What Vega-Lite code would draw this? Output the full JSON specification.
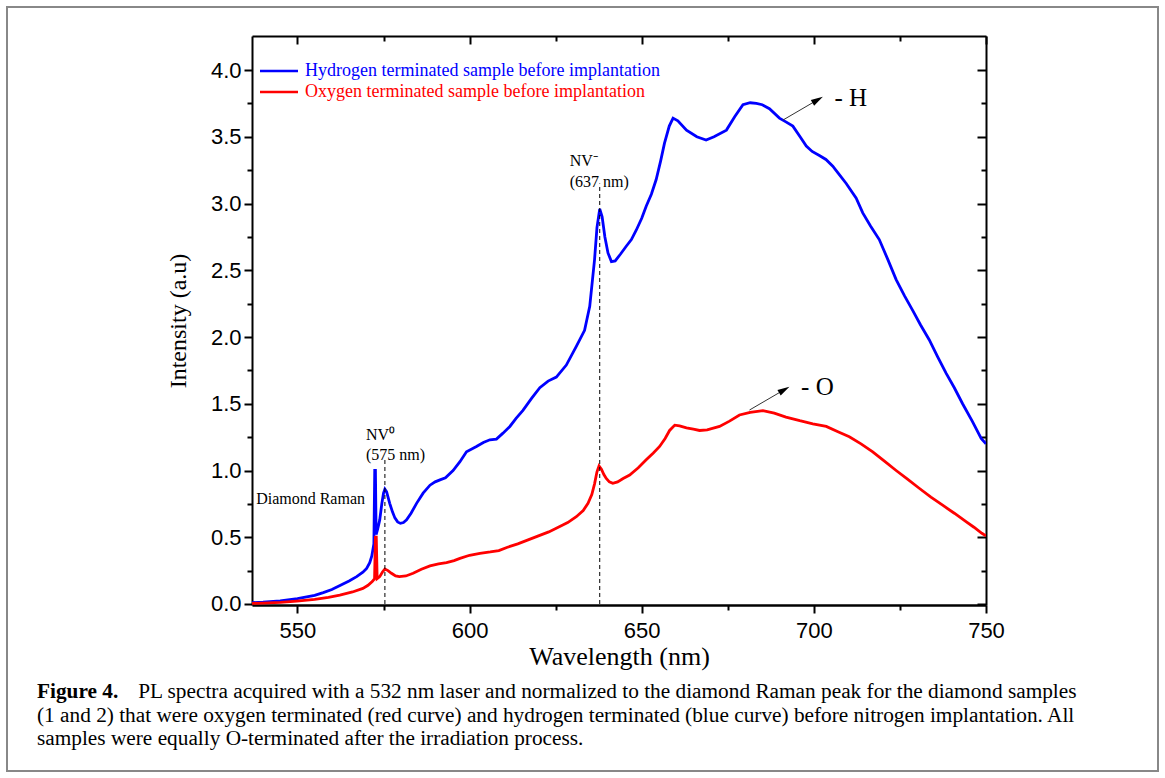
{
  "$schema": "https://vega.github.io/schema/vega-lite/v6.json",
  "width": 734,
  "height": 569,
  "autosize": {"type": "none"},
  "padding": {"left": 252, "top": 36, "right": 179, "bottom": 173},
  "background": "white",
  "config": {"view": {"stroke": null}, "font": "Liberation Serif"},
  "title": {
    "text": "Figure 4.",
    "subtitle": [
      "\u200b\u00a0\u00a0\u00a0\u00a0\u00a0\u00a0\u00a0\u00a0\u00a0\u00a0\u00a0\u00a0\u00a0\u00a0\u00a0\u00a0\u00a0\u00a0\u00a0PL spectra acquired with a 532 nm laser and normalized to the diamond Raman peak for the diamond samples",
      "(1 and 2) that were oxygen terminated (red curve) and hydrogen terminated (blue curve) before nitrogen implantation. All",
      "samples were equally O-terminated after the irradiation process."
    ],
    "orient": "bottom",
    "anchor": "start",
    "frame": "group",
    "dx": -215,
    "offset": -91,
    "font": "Liberation Serif",
    "fontSize": 21.3,
    "fontWeight": "bold",
    "color": "black",
    "subtitleFont": "Liberation Serif",
    "subtitleFontSize": 21.3,
    "subtitleFontWeight": "normal",
    "subtitleColor": "black",
    "subtitleLineHeight": 23.5,
    "subtitlePadding": -21
  },
  "datasets": {
    "spectra": [
      {"s":"H","wl":536.8,"I":0.010},{"s":"H","wl":540,"I":0.014},{"s":"H","wl":545,"I":0.024},{"s":"H","wl":550,"I":0.040},
      {"s":"H","wl":555,"I":0.064},{"s":"H","wl":557.5,"I":0.085},{"s":"H","wl":560,"I":0.108},{"s":"H","wl":562.5,"I":0.140},
      {"s":"H","wl":565,"I":0.172},{"s":"H","wl":567.2,"I":0.205},{"s":"H","wl":569,"I":0.238},{"s":"H","wl":570.1,"I":0.267},
      {"s":"H","wl":571,"I":0.31},{"s":"H","wl":571.6,"I":0.36},{"s":"H","wl":572.2,"I":0.45},{"s":"H","wl":572.45,"I":1.00},
      {"s":"H","wl":572.65,"I":1.00},{"s":"H","wl":572.85,"I":0.52},{"s":"H","wl":573.3,"I":0.56},{"s":"H","wl":573.9,"I":0.63},
      {"s":"H","wl":574.5,"I":0.75},{"s":"H","wl":575.0,"I":0.83},{"s":"H","wl":575.4,"I":0.86},{"s":"H","wl":575.9,"I":0.84},
      {"s":"H","wl":576.8,"I":0.754},{"s":"H","wl":577.6,"I":0.69},{"s":"H","wl":578.3,"I":0.645},{"s":"H","wl":579.1,"I":0.615},
      {"s":"H","wl":579.9,"I":0.604},{"s":"H","wl":580.8,"I":0.61},{"s":"H","wl":581.7,"I":0.63},{"s":"H","wl":583,"I":0.68},
      {"s":"H","wl":584.6,"I":0.754},{"s":"H","wl":586.5,"I":0.83},{"s":"H","wl":588.5,"I":0.89},{"s":"H","wl":590,"I":0.915},
      {"s":"H","wl":591.4,"I":0.93},{"s":"H","wl":593,"I":0.945},{"s":"H","wl":595.2,"I":1.00},{"s":"H","wl":597.2,"I":1.066},
      {"s":"H","wl":599.1,"I":1.14},{"s":"H","wl":602,"I":1.18},{"s":"H","wl":604,"I":1.21},{"s":"H","wl":605.9,"I":1.23},
      {"s":"H","wl":607.8,"I":1.235},{"s":"H","wl":609.7,"I":1.28},{"s":"H","wl":611.7,"I":1.33},{"s":"H","wl":613.5,"I":1.39},
      {"s":"H","wl":615.5,"I":1.45},{"s":"H","wl":618,"I":1.54},{"s":"H","wl":620.4,"I":1.62},{"s":"H","wl":622.8,"I":1.67},
      {"s":"H","wl":625.2,"I":1.70},{"s":"H","wl":628.1,"I":1.79},{"s":"H","wl":631,"I":1.93},{"s":"H","wl":633.4,"I":2.05},
      {"s":"H","wl":634.9,"I":2.23},{"s":"H","wl":635.7,"I":2.43},{"s":"H","wl":636.3,"I":2.58},{"s":"H","wl":637,"I":2.82},
      {"s":"H","wl":637.8,"I":2.96},{"s":"H","wl":638.5,"I":2.90},{"s":"H","wl":639.3,"I":2.75},{"s":"H","wl":640.2,"I":2.63},
      {"s":"H","wl":641.2,"I":2.565},{"s":"H","wl":642.3,"I":2.57},{"s":"H","wl":643.8,"I":2.62},{"s":"H","wl":645.5,"I":2.68},
      {"s":"H","wl":647,"I":2.73},{"s":"H","wl":648.4,"I":2.80},{"s":"H","wl":650,"I":2.89},{"s":"H","wl":651.3,"I":2.98},
      {"s":"H","wl":652.8,"I":3.07},{"s":"H","wl":654.2,"I":3.18},{"s":"H","wl":655.5,"I":3.32},{"s":"H","wl":656.6,"I":3.45},
      {"s":"H","wl":658,"I":3.58},{"s":"H","wl":659.1,"I":3.64},{"s":"H","wl":660.5,"I":3.62},{"s":"H","wl":663,"I":3.55},
      {"s":"H","wl":666,"I":3.50},{"s":"H","wl":668.7,"I":3.476},{"s":"H","wl":671,"I":3.50},{"s":"H","wl":674.6,"I":3.55},
      {"s":"H","wl":677,"I":3.65},{"s":"H","wl":679.4,"I":3.74},{"s":"H","wl":681.5,"I":3.755},{"s":"H","wl":683.3,"I":3.75},
      {"s":"H","wl":685,"I":3.74},{"s":"H","wl":687.1,"I":3.71},{"s":"H","wl":690,"I":3.64},{"s":"H","wl":692,"I":3.61},
      {"s":"H","wl":693.9,"I":3.58},{"s":"H","wl":696,"I":3.50},{"s":"H","wl":697.8,"I":3.43},{"s":"H","wl":699.5,"I":3.39},
      {"s":"H","wl":701.6,"I":3.36},{"s":"H","wl":703.5,"I":3.33},{"s":"H","wl":705.5,"I":3.28},{"s":"H","wl":707,"I":3.23},
      {"s":"H","wl":709.4,"I":3.15},{"s":"H","wl":712.3,"I":3.04},{"s":"H","wl":714.2,"I":2.93},{"s":"H","wl":716.5,"I":2.83},
      {"s":"H","wl":719,"I":2.73},{"s":"H","wl":721.5,"I":2.58},{"s":"H","wl":723.9,"I":2.43},{"s":"H","wl":726.3,"I":2.31},
      {"s":"H","wl":728.7,"I":2.20},{"s":"H","wl":731,"I":2.09},{"s":"H","wl":733.5,"I":1.98},{"s":"H","wl":736,"I":1.85},
      {"s":"H","wl":738.4,"I":1.73},{"s":"H","wl":740.8,"I":1.62},{"s":"H","wl":743.2,"I":1.50},{"s":"H","wl":746,"I":1.37},
      {"s":"H","wl":748.6,"I":1.24},{"s":"H","wl":750,"I":1.20},
      {"s":"O","wl":536.8,"I":0.005},{"s":"O","wl":540,"I":0.007},{"s":"O","wl":545,"I":0.012},{"s":"O","wl":549.8,"I":0.022},
      {"s":"O","wl":555,"I":0.035},{"s":"O","wl":559,"I":0.050},{"s":"O","wl":562.3,"I":0.067},{"s":"O","wl":566,"I":0.090},
      {"s":"O","wl":569,"I":0.117},{"s":"O","wl":570.5,"I":0.14},{"s":"O","wl":571.8,"I":0.17},{"s":"O","wl":572.4,"I":0.19},
      {"s":"O","wl":572.65,"I":0.50},{"s":"O","wl":572.9,"I":0.50},{"s":"O","wl":573.15,"I":0.19},{"s":"O","wl":573.9,"I":0.205},
      {"s":"O","wl":574.7,"I":0.24},{"s":"O","wl":575.4,"I":0.262},{"s":"O","wl":576.3,"I":0.25},{"s":"O","wl":577.3,"I":0.23},
      {"s":"O","wl":578.5,"I":0.21},{"s":"O","wl":579.6,"I":0.205},{"s":"O","wl":581.5,"I":0.21},{"s":"O","wl":583.6,"I":0.23},
      {"s":"O","wl":586,"I":0.26},{"s":"O","wl":588.5,"I":0.285},{"s":"O","wl":591,"I":0.30},{"s":"O","wl":593.3,"I":0.31},
      {"s":"O","wl":595.5,"I":0.325},{"s":"O","wl":597.2,"I":0.342},{"s":"O","wl":600,"I":0.365},{"s":"O","wl":603,"I":0.38},
      {"s":"O","wl":606,"I":0.39},{"s":"O","wl":608.5,"I":0.40},{"s":"O","wl":611,"I":0.425},{"s":"O","wl":614,"I":0.45},
      {"s":"O","wl":617,"I":0.48},{"s":"O","wl":620,"I":0.51},{"s":"O","wl":623,"I":0.54},{"s":"O","wl":626.2,"I":0.58},
      {"s":"O","wl":628.5,"I":0.61},{"s":"O","wl":631,"I":0.654},{"s":"O","wl":633,"I":0.70},{"s":"O","wl":634.4,"I":0.754},
      {"s":"O","wl":635.5,"I":0.82},{"s":"O","wl":636.3,"I":0.90},{"s":"O","wl":637,"I":0.99},{"s":"O","wl":637.6,"I":1.034},
      {"s":"O","wl":638.3,"I":1.01},{"s":"O","wl":639,"I":0.97},{"s":"O","wl":639.7,"I":0.94},{"s":"O","wl":640.6,"I":0.915},
      {"s":"O","wl":641.6,"I":0.904},{"s":"O","wl":643,"I":0.915},{"s":"O","wl":644.6,"I":0.94},{"s":"O","wl":646.5,"I":0.966},
      {"s":"O","wl":649,"I":1.02},{"s":"O","wl":651.3,"I":1.08},{"s":"O","wl":653.3,"I":1.13},{"s":"O","wl":655.2,"I":1.18},
      {"s":"O","wl":656.8,"I":1.24},{"s":"O","wl":658.1,"I":1.30},{"s":"O","wl":659.6,"I":1.34},{"s":"O","wl":661,"I":1.335},
      {"s":"O","wl":663,"I":1.32},{"s":"O","wl":665,"I":1.31},{"s":"O","wl":666.8,"I":1.30},{"s":"O","wl":669,"I":1.305},
      {"s":"O","wl":672.6,"I":1.33},{"s":"O","wl":675.5,"I":1.37},{"s":"O","wl":678.4,"I":1.416},{"s":"O","wl":681.5,"I":1.435},
      {"s":"O","wl":685.2,"I":1.448},{"s":"O","wl":688.5,"I":1.43},{"s":"O","wl":691.9,"I":1.40},{"s":"O","wl":695.9,"I":1.373},
      {"s":"O","wl":699.7,"I":1.35},{"s":"O","wl":703.6,"I":1.33},{"s":"O","wl":707,"I":1.29},{"s":"O","wl":710.3,"I":1.253},
      {"s":"O","wl":713.7,"I":1.20},{"s":"O","wl":717.1,"I":1.14},{"s":"O","wl":720.5,"I":1.07},{"s":"O","wl":723.9,"I":1.00},
      {"s":"O","wl":727.2,"I":0.935},{"s":"O","wl":730.6,"I":0.867},{"s":"O","wl":734,"I":0.80},{"s":"O","wl":737.4,"I":0.74},
      {"s":"O","wl":740.8,"I":0.68},{"s":"O","wl":744.2,"I":0.617},{"s":"O","wl":746.5,"I":0.575},{"s":"O","wl":748.8,"I":0.53},
      {"s":"O","wl":750,"I":0.51}
    ],
    "peaks": [
      {"wl": 575.4, "lo": 0, "hi": 1.08},
      {"wl": 637.8, "lo": 0, "hi": 3.15}
    ],
    "labels": [
      {"x": 569.9, "y": 1.228, "t": "NV⁰"},
      {"x": 569.9, "y": 1.075, "t": "(575 nm)"},
      {"x": 629.1, "y": 3.28, "t": "NV⁻"},
      {"x": 629.1, "y": 3.126, "t": "(637 nm)"},
      {"x": 538.0, "y": 0.749, "t": "Diamond Raman"}
    ],
    "tags": [
      {"x": 706.0, "y": 3.73, "t": "- H"},
      {"x": 696.3, "y": 1.566, "t": "- O"}
    ],
    "arrows": [
      {"x1": 691.0, "y1": 3.625, "hx": 701.1, "hy": 3.777},
      {"x1": 681.3, "y1": 1.453, "hx": 691.4, "hy": 1.605}
    ]
  },
  "resolve": {"axis": {"x": "independent", "y": "independent"}},
  "layer": [
    {
      "data": {"name": "spectra"},
      "mark": {"type": "line", "strokeWidth": 2.8, "clip": true},
      "encoding": {
        "x": {
          "field": "wl", "type": "quantitative",
          "scale": {"domain": [536.8, 750], "nice": false, "zero": false},
          "axis": {
            "orient": "bottom",
            "values": [550, 575, 600, 625, 650, 675, 700, 725, 750],
            "labelExpr": "datum.value % 50 == 0 ? datum.label : ''",
            "tickSize": {"condition": {"test": "datum.value % 50 == 0", "value": 8}, "value": 5},
            "tickWidth": 2, "tickColor": "black",
            "domainColor": "black", "domainWidth": 2.5,
            "labelFont": "Liberation Sans", "labelFontSize": 22, "labelColor": "black", "labelPadding": 7,
            "labelFlush": false, "labelOverlap": false,
            "title": "Wavelength (nm)", "titleFont": "Liberation Serif", "titleFontSize": 26,
            "titleFontWeight": "normal", "titleColor": "black", "titlePadding": 2,
            "grid": false
          }
        },
        "y": {
          "field": "I", "type": "quantitative",
          "scale": {"domain": [-0.0075, 4.255], "nice": false, "zero": false},
          "axis": {
            "orient": "left",
            "values": [0, 0.25, 0.5, 0.75, 1, 1.25, 1.5, 1.75, 2, 2.25, 2.5, 2.75, 3, 3.25, 3.5, 3.75, 4],
            "labelExpr": "datum.value % 0.5 == 0 ? format(datum.value, '.1f') : ''",
            "tickSize": {"condition": {"test": "datum.value % 0.5 == 0", "value": 8}, "value": 5},
            "tickWidth": 2, "tickColor": "black",
            "domainColor": "black", "domainWidth": 2,
            "labelFont": "Liberation Sans", "labelFontSize": 22, "labelColor": "black", "labelPadding": 3,
            "labelFlush": false, "labelOverlap": false,
            "title": "Intensity (a.u)", "titleFont": "Liberation Serif", "titleFontSize": 24,
            "titleFontWeight": "normal", "titleColor": "black", "titlePadding": 20,
            "grid": false
          }
        },
        "color": {
          "field": "s", "type": "nominal",
          "scale": {"domain": ["H", "O"], "range": ["#0000ff", "#ff0000"]},
          "legend": {
            "orient": "none", "legendX": 18, "legendY": 26, "title": null,
            "symbolType": "M-3.8,0L3.8,0", "symbolSize": 100, "symbolStrokeWidth": 2.5,
            "labelFont": "Liberation Serif", "labelFontSize": 18, "labelOffset": 17, "labelLimit": 1000,
            "rowPadding": 3, "padding": 0,
            "labelExpr": "datum.label == 'H' ? 'Hydrogen terminated sample before implantation' : 'Oxygen terminated sample before implantation'",
            "encode": {"labels": {"update": {"fill": {"scale": "color", "field": "value"}}}}
          }
        }
      }
    },
    {
      "data": {"name": "peaks"},
      "mark": {"type": "rule", "color": "black", "strokeWidth": 1, "strokeDash": [4, 3]},
      "encoding": {
        "x": {
          "field": "wl", "type": "quantitative",
          "axis": {
            "orient": "top",
            "values": [550, 575, 600, 625, 650, 675, 700, 725, 750],
            "labels": false, "title": null, "grid": false,
            "tickSize": {"condition": {"test": "datum.value % 50 == 0", "value": -8}, "value": -5},
            "tickWidth": 2, "tickColor": "black",
            "domainColor": "black", "domainWidth": 2
          }
        },
        "y": {
          "field": "lo", "type": "quantitative",
          "axis": {
            "orient": "right",
            "values": [0, 0.25, 0.5, 0.75, 1, 1.25, 1.5, 1.75, 2, 2.25, 2.5, 2.75, 3, 3.25, 3.5, 3.75, 4],
            "labels": false, "title": null, "grid": false,
            "tickSize": {"condition": {"test": "datum.value % 0.5 == 0", "value": -9}, "value": -5},
            "tickWidth": 2, "tickColor": "black",
            "domainColor": "black", "domainWidth": 2
          }
        },
        "y2": {"field": "hi"}
      }
    },
    {
      "data": {"name": "peaks"},
      "mark": {"type": "point", "filled": true, "opacity": 0, "size": 1},
      "encoding": {
        "x": {"field": "wl", "type": "quantitative", "axis": null},
        "y": {"field": "lo", "type": "quantitative", "axis": null},
        "fill": {
          "field": "hi", "type": "quantitative",
          "scale": {"range": ["transparent", "transparent"]},
          "legend": {
            "orient": "none", "legendX": -245, "legendY": -29, "title": null,
            "direction": "horizontal", "gradientLength": 1151, "gradientThickness": 764,
            "gradientStrokeColor": "#888888", "gradientStrokeWidth": 2,
            "labelExpr": "''", "labelFontSize": 1, "labelOffset": 0, "padding": 0
          }
        }
      }
    },
    {
      "data": {"name": "labels"},
      "mark": {"type": "text", "font": "Liberation Serif", "fontSize": 16, "align": "left", "baseline": "alphabetic", "color": "black"},
      "encoding": {
        "x": {"field": "x", "type": "quantitative", "axis": null},
        "y": {"field": "y", "type": "quantitative", "axis": null},
        "text": {"field": "t"}
      }
    },
    {
      "data": {"name": "tags"},
      "mark": {"type": "text", "font": "Liberation Serif", "fontSize": 25, "align": "left", "baseline": "alphabetic", "color": "black"},
      "encoding": {
        "x": {"field": "x", "type": "quantitative", "axis": null},
        "y": {"field": "y", "type": "quantitative", "axis": null},
        "text": {"field": "t"}
      }
    },
    {
      "data": {"name": "arrows"},
      "mark": {"type": "rule", "color": "#333333", "strokeWidth": 1},
      "encoding": {
        "x": {"field": "x1", "type": "quantitative", "axis": null},
        "y": {"field": "y1", "type": "quantitative", "axis": null},
        "x2": {"field": "hx"},
        "y2": {"field": "hy"}
      }
    },
    {
      "data": {"name": "arrows"},
      "mark": {"type": "point", "shape": "M1,0L-1,-0.55L-1,0.55Z", "filled": true, "color": "black", "size": 144, "angle": 330, "opacity": 1},
      "encoding": {
        "x": {"field": "hx", "type": "quantitative", "axis": null},
        "y": {"field": "hy", "type": "quantitative", "axis": null}
      }
    }
  ]
}
